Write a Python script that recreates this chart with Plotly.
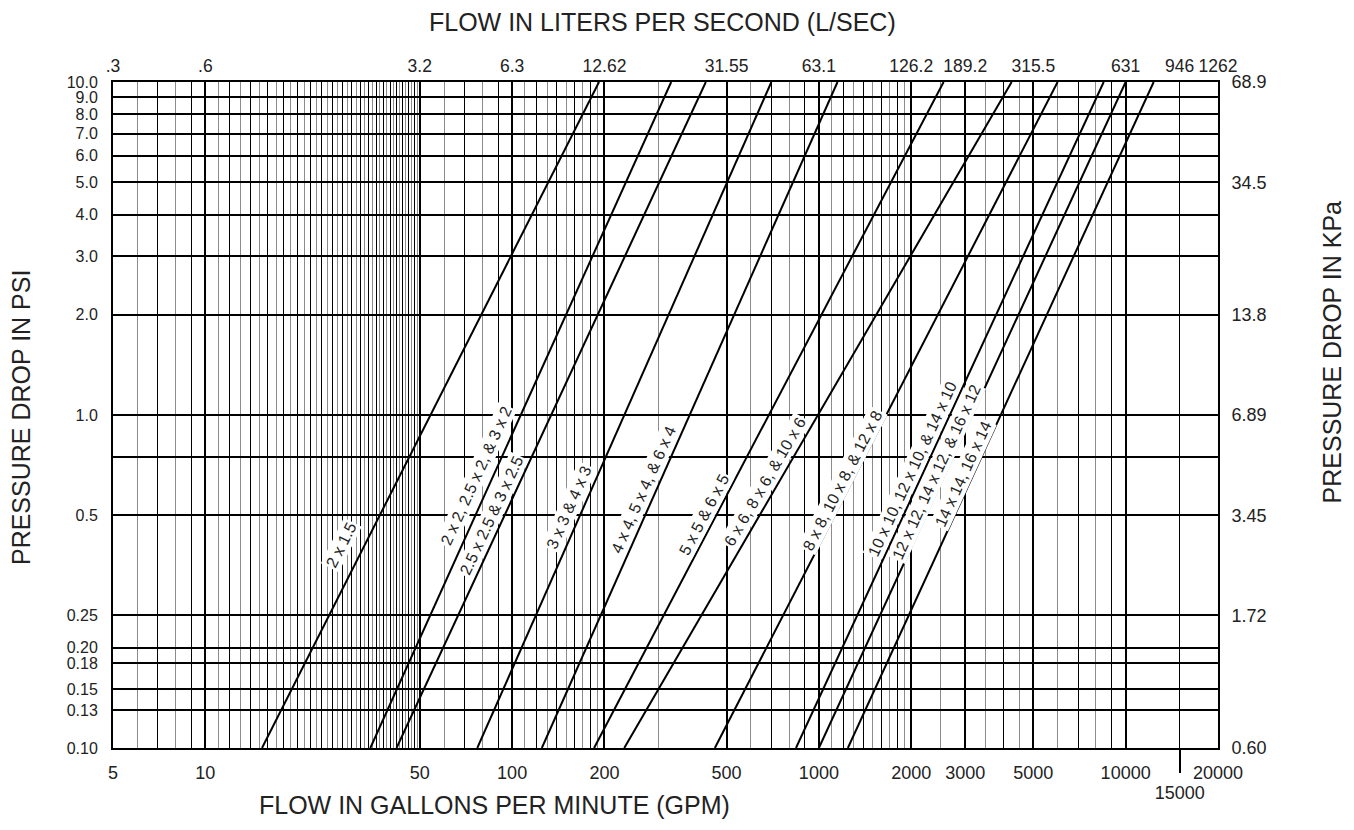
import math
import plotly.graph_objects as go

# ---------------- data ----------------
series_names = [
    "2 x 1.5",
    "2 x 2, 2.5 x 2, & 3 x 2",
    "2.5 x 2.5 & 3 x 2.5",
    "3 x 3 & 4 x 3",
    "4 x 4, 5 x 4, & 6 x 4",
    "5 x 5 & 6 x 5",
    "6 x 6, 8 x 6, & 10 x 6",
    "8 x 8, 10 x 8, & 12 x 8",
    "10 x 10, 12 x 10, & 14 x 10",
    "12 x 12, 14 x 12, & 16 x 12",
    "14 x 14, 16 x 14",
]
# flow (GPM) where each line meets 0.1 psi and 10 psi
flow_at_low_psi = [15.3, 34.5, 42, 77, 125, 185, 232, 458, 842, 1000, 1243]
flow_at_high_psi = [192, 330, 428, 700, 1150, 2550, 4250, 6000, 8480, 10000, 12340]
psi_ends = [0.1, 10]

# label placement along each line (psi value at label centre)
label_psi = [0.407, 0.658, 0.499, 0.529, 0.597, 0.504, 0.631, 0.636, 0.688, 0.674, 0.665]
label_xshift = [-24, -17, -13, -15, -13, -13, -14, -10, -13, -10, -11]

gpm_ticks = [5, 10, 50, 100, 200, 500, 1000, 2000, 3000, 5000, 10000, 20000]
gpm_ticktext = ["5", "10", "50", "100", "200", "500", "1000", "2000", "3000", "5000", "10000", "20000"]
lps_ticks = [5, 10, 50, 100, 200, 500, 1000, 2000, 3000, 5000, 10000, 15000, 20000]
lps_ticktext = [".3", ".6", "3.2", "6.3", "12.62", "31.55", "63.1", "126.2", "189.2", "315.5", "631", "946", "1262"]
psi_ticks = [0.1, 0.13, 0.15, 0.18, 0.2, 0.25, 0.5, 0.75, 1, 2, 3, 4, 5, 6, 7, 8, 9, 10]
psi_ticktext = ["0.10", "0.13", "0.15", "0.18", "0.20", "0.25", "0.5", "", "1.0", "2.0", "3.0",
                "4.0", "5.0", "6.0", "7.0", "8.0", "9.0", "10.0"]
kpa_ticks = [0.1, 0.25, 0.5, 1, 2, 5, 10]
kpa_ticktext = ["0.60", "1.72", "3.45", "6.89", "13.8", "34.5", "68.9"]

# minor vertical grid positions, grouped between labelled lines
minor_groups = [
    list(range(6, 10)),
    list(range(11, 50)),
    list(range(60, 100, 10)),
    list(range(110, 200, 10)),
    [300],
    list(range(600, 1000, 100)),
    list(range(1100, 2000, 100)),
    [2500],
    [3500, 4000, 4500],
    list(range(6000, 10000, 1000)),
    [15000],
]

# ---------------- layout geometry ----------------
OFF = 8                      # default page body margin
W, H = 1354 - 2 * OFF, 830 - 2 * OFF
PL, PR, PT, PB = 113, 1218.5, 82, 748   # plot box in page pixels
ML, MT = PL - OFF, PT - OFF
MR = (OFF + W) - PR
MB = (OFF + H) - PB
PW, PH = PR - PL, PB - PT
XR = [math.log10(5), math.log10(20000)]
YR = [-1, 1]
pxx = PW / (XR[1] - XR[0])
pxy = PH / (YR[1] - YR[0])


def px_to_paper(px, py):
    return (px - PL) / PW, (PB - py) / PH


FONT = "Liberation Sans, Arial, Helvetica, sans-serif"

gray_minor, black_minor = [], []
for g in minor_groups:
    for i, v in enumerate(g):
        (gray_minor if i % 2 == 0 else black_minor).append(v)
black_minor = [v for v in black_minor if v != 15000]

fig = go.Figure()

annotations = []
for name, f0, f1, lp, xs in zip(series_names, flow_at_low_psi, flow_at_high_psi, label_psi, label_xshift):
    fig.add_trace(go.Scatter(x=[f0, f1], y=psi_ends, mode="lines",
                             line=dict(color="black", width=2), showlegend=False,
                             hoverinfo="skip", xaxis="x", yaxis="y"))
    lf0, lf1 = math.log10(f0), math.log10(f1)
    ly0, ly1 = math.log10(psi_ends[0]), math.log10(psi_ends[1])
    t = (math.log10(lp) - ly0) / (ly1 - ly0)
    lx = lf0 + t * (lf1 - lf0)
    ang = math.degrees(math.atan2((ly1 - ly0) * pxy, (lf1 - lf0) * pxx))
    annotations.append(dict(x=lx, y=math.log10(lp), xref="x", yref="y", text=name,
                            showarrow=False, textangle=-ang, xshift=xs,
                            xanchor="center", yanchor="middle",
                            bgcolor="white", borderpad=1,
                            font=dict(family=FONT, size=16, color="#222")))

# helper invisible traces so overlay axes render
for xa, ya in [("x2", "y"), ("x3", "y"), ("x4", "y"), ("x", "y2")]:
    fig.add_trace(go.Scatter(x=[10], y=[1], mode="markers", marker=dict(opacity=0),
                             showlegend=False, hoverinfo="skip", xaxis=xa, yaxis=ya))

tickfont = dict(family=FONT, size=18, color="#222")
topfont = dict(family=FONT, size=17.5, color="#222")
leftfont = dict(family=FONT, size=16, color="#222")

fig.update_layout(
    width=W, height=H,
    margin=dict(l=ML, r=MR, t=MT, b=MB),
    paper_bgcolor="white", plot_bgcolor="white",
    showlegend=False,
    xaxis=dict(type="log", range=XR, tickvals=gpm_ticks, ticktext=gpm_ticktext,
               showgrid=True, gridcolor="black", gridwidth=2,
               ticks="outside", ticklen=7, tickcolor="rgba(0,0,0,0)",
               showline=True, linecolor="black", linewidth=2, mirror=True,
               tickfont=tickfont, zeroline=False,
               minor=dict(tickvals=gray_minor, showgrid=True, gridcolor="#8c8c8c",
                          gridwidth=1.3, ticks="")),
    xaxis4=dict(type="log", range=XR, overlaying="x", anchor="y", tickvals=black_minor,
                showticklabels=False, showgrid=True, gridcolor="black", gridwidth=1,
                ticks="", showline=False, zeroline=False),
    xaxis2=dict(type="log", range=XR, overlaying="x", side="top", anchor="y",
                tickvals=lps_ticks, ticktext=lps_ticktext, showgrid=False,
                ticks="outside", ticklen=2, tickcolor="rgba(0,0,0,0)",
                tickfont=topfont, zeroline=False),
    xaxis3=dict(type="log", range=XR, overlaying="x", side="bottom", anchor="y",
                tickvals=[15000], ticktext=["15000"], showgrid=True, gridcolor="black",
                gridwidth=1, ticks="outside", ticklen=24, tickwidth=1.5, tickcolor="black",
                ticklabelstandoff=4, tickfont=tickfont, zeroline=False),
    yaxis=dict(type="log", range=YR, tickvals=psi_ticks, ticktext=psi_ticktext,
               showgrid=True, gridcolor="black", gridwidth=2,
               ticks="outside", ticklen=10, tickcolor="rgba(0,0,0,0)",
               showline=True, linecolor="black", linewidth=2, mirror=True,
               tickfont=leftfont, zeroline=False),
    yaxis2=dict(type="log", range=YR, overlaying="y", side="right", anchor="x",
                tickvals=kpa_ticks, ticktext=kpa_ticktext, showgrid=False,
                ticks="outside", ticklen=9, tickcolor="rgba(0,0,0,0)",
                tickfont=tickfont, zeroline=False),
)

titlefont = dict(family=FONT, size=25, color="#222")
titles = [
    ("FLOW IN LITERS PER SECOND (L/SEC)", 663, 22, 0),
    ("FLOW IN GALLONS PER MINUTE (GPM)", 495, 805, 0),
    ("PRESSURE DROP IN PSI", 21, 418, -90),
    ("PRESSURE DROP IN KPa", 1333, 352, -90),
]
for txt, px, py, ta in titles:
    xp, yp = px_to_paper(px, py)
    annotations.append(dict(text=txt, xref="paper", yref="paper", x=xp, y=yp,
                            xanchor="center", yanchor="middle", textangle=ta,
                            borderpad=0, showarrow=False, font=titlefont))
fig.update_layout(annotations=annotations)

fig.write_html("out.html")
